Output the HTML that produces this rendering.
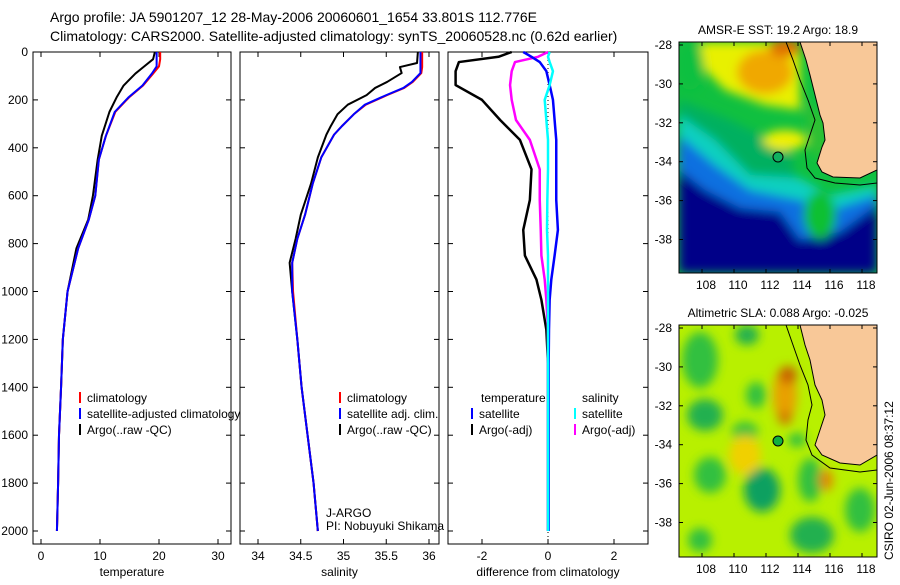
<!DOCTYPE html>
<html><head><meta charset="utf-8">
<style>
body{margin:0;background:#fff;}
svg text{font-family:"Liberation Sans",sans-serif;}
</style></head>
<body>
<svg id="chart" width="900" height="580" viewBox="0 0 900 580" xmlns="http://www.w3.org/2000/svg">
<defs>
<filter id="blur" x="-20%" y="-20%" width="140%" height="140%"><feGaussianBlur stdDeviation="5"/></filter>
<clipPath id="clipTop"><rect x="679" y="42" width="198" height="231"/></clipPath>
<clipPath id="clipBot"><rect x="679" y="325" width="198" height="232"/></clipPath>
</defs>
<rect width="900" height="580" fill="#fff"/>
<text x="50" y="22" font-size="14">Argo profile: JA 5901207_12 28-May-2006 20060601_1654 33.801S 112.776E</text>
<text x="50" y="41" font-size="14">Climatology: CARS2000. Satellite-adjusted climatology: synTS_20060528.nc (0.62d earlier)</text>

<!-- SST map -->
<g>
<text x="778" y="34" font-size="12" text-anchor="middle">AMSR-E SST: 19.2 Argo: 18.9</text>
<g clip-path="url(#clipTop)">
<rect x="679" y="42" width="198" height="231" fill="#10c040"/>
<g filter="url(#blur)">
<polygon fill="#00b060" points="679,100 730,120 790,150 800,200 700,180 679,160"/>
<polygon fill="#10d0c0" points="679,115 715,140 750,175 800,178 830,195 877,185 877,230 679,230"/>
<polygon fill="#0a70e0" points="679,135 715,165 750,190 800,200 830,210 877,195 877,273 679,273"/>
<polygon fill="#000088" points="679,170 705,190 740,208 780,212 800,240 840,232 877,205 877,273 679,273"/>
<ellipse fill="#10c030" cx="820" cy="215" rx="16" ry="24"/>
<ellipse fill="#10c040" cx="690" cy="65" rx="14" ry="25"/>
<polygon fill="#e8f000" points="700,42 800,42 800,110 765,105 725,90 705,70"/>
<ellipse fill="#f0f000" cx="785" cy="140" rx="22" ry="10"/>
<ellipse fill="#f0a800" cx="765" cy="72" rx="28" ry="22"/>
<ellipse fill="#e07000" cx="785" cy="48" rx="16" ry="9"/>
<polygon fill="#30c030" points="805,100 825,120 826,150 818,160 812,150"/>
</g>
<polygon fill="#f8c898" stroke="#000" stroke-width="1" points="800,42 806,60 810,75 815,95 820,115 823,123 825,140 822,147 817,163 822,172 833,177 860,178 877,170 877,42"/>
<polyline fill="none" stroke="#000" stroke-width="1" points="786,42 793,60 800,80 808,100 815,120 810,135 805,150 807,168 815,178 835,183 860,185 877,183"/>
<circle cx="778" cy="157" r="5" fill="#10b060" stroke="#000"/>
</g>
<rect x="679" y="42" width="198" height="231" fill="none" stroke="#000"/>
<g id="sstTicks"></g>
</g>

<!-- SLA map -->
<g>
<text x="778" y="317" font-size="12" text-anchor="middle">Altimetric SLA: 0.088 Argo: -0.025</text>
<g clip-path="url(#clipBot)">
<rect x="679" y="325" width="198" height="232" fill="#b8f000"/>
<g filter="url(#blur)">
<ellipse fill="#30c040" cx="700" cy="360" rx="18" ry="28"/>
<ellipse fill="#20b050" cx="747" cy="335" rx="12" ry="10"/>
<ellipse fill="#30c040" cx="756" cy="395" rx="10" ry="13"/>
<ellipse fill="#20b050" cx="705" cy="415" rx="18" ry="16"/>
<ellipse fill="#30c040" cx="745" cy="432" rx="13" ry="10"/>
<ellipse fill="#30c040" cx="710" cy="475" rx="16" ry="18"/>
<ellipse fill="#10a060" cx="762" cy="490" rx="18" ry="22"/>
<ellipse fill="#30c040" cx="810" cy="480" rx="12" ry="22"/>
<ellipse fill="#20b050" cx="812" cy="535" rx="22" ry="18"/>
<ellipse fill="#30c040" cx="860" cy="510" rx="15" ry="22"/>
<ellipse fill="#30c040" cx="700" cy="540" rx="12" ry="12"/>
<ellipse fill="#f0d000" cx="745" cy="455" rx="16" ry="20"/>
<ellipse fill="#e8a000" cx="785" cy="395" rx="12" ry="28"/>
<ellipse fill="#c86000" cx="788" cy="375" rx="9" ry="9"/>
<ellipse fill="#d07800" cx="785" cy="418" rx="7" ry="7"/>
<ellipse fill="#e08800" cx="826" cy="480" rx="7" ry="11"/>
<ellipse fill="#30c040" cx="797" cy="440" rx="9" ry="7"/>
</g>
<polygon fill="#f8c898" stroke="#000" stroke-width="1" points="800,325 805,345 810,360 815,385 822,400 825,415 820,430 815,445 822,455 840,463 860,465 877,455 877,325"/>
<polyline fill="none" stroke="#000" stroke-width="1" points="786,325 793,345 800,365 808,385 812,405 808,420 806,440 812,455 830,468 860,472 877,470"/>
<circle cx="778" cy="441" r="5" fill="#10b040" stroke="#000"/>
</g>
<rect x="679" y="325" width="198" height="232" fill="none" stroke="#000"/>
<g id="slaTicks"></g>
<text transform="translate(893,560) rotate(-90)" font-size="12">CSIRO 02-Jun-2006 08:37:12</text>
</g>

<g id="panels"></g>
</svg>
<script>
// ---- data ----
const tDepths = [0,30,60,90,140,190,250,350,450,600,700,820,1000,1200,1400,1600,1800,2000];
const tempArgo = [19.3,19.0,17.5,16.0,14.0,12.8,11.6,10.3,9.6,8.8,8.0,6.0,4.5,3.7,3.4,3.05,2.9,2.7];
const tempClim = [20.2,20.2,20.0,19.0,17.3,14.9,12.6,11.0,9.8,9.2,8.1,6.3,4.5,3.7,3.4,3.05,2.9,2.7];
const tempSat  = [19.6,19.6,19.6,18.8,17.2,14.8,12.5,11.0,9.8,9.2,8.1,6.3,4.5,3.7,3.4,3.05,2.9,2.7];
const sDepths = [0,46,63,88,125,150,180,220,260,310,345,440,550,680,780,880,1000,1200,1400,1600,1800,2000];
const salArgo = [35.87,35.86,35.66,35.68,35.51,35.37,35.27,35.05,34.93,34.85,34.8,34.7,34.62,34.5,34.44,34.37,34.4,34.46,34.51,34.58,34.65,34.7];
const salClim = [35.92,35.92,35.92,35.91,35.81,35.71,35.51,35.26,35.12,34.98,34.89,34.74,34.64,34.55,34.46,34.4,34.41,34.46,34.51,34.58,34.65,34.7];
const salSat  = [35.9,35.9,35.9,35.9,35.8,35.7,35.5,35.25,35.12,34.98,34.89,34.74,34.64,34.55,34.46,34.4,34.4,34.46,34.51,34.58,34.65,34.7];
const dDepths = [0,20,42,80,138,200,284,367,490,618,743,850,950,1035,1160,1300,1600,2000];
const dTempArgo = [-1.1,-1.5,-2.7,-2.8,-2.8,-2.0,-1.45,-0.85,-0.5,-0.55,-0.75,-0.7,-0.35,-0.2,-0.05,0,0,0];
const dSalArgo  = [0,-0.3,-1.0,-1.1,-1.15,-1.1,-0.97,-0.55,-0.25,-0.25,-0.22,-0.2,-0.1,-0.05,0,0,0,0];
const dTempSat  = [-0.75,-0.5,-0.25,-0.05,0.05,0.15,0.2,0.25,0.25,0.25,0.3,0.2,0.1,0.05,0.03,0.02,0.02,0.02];
const dSalSat   = [0.05,0.0,0.05,0.15,0.05,-0.1,-0.05,0.0,0.0,-0.02,-0.03,0.0,0.0,0.0,0.0,0.0,0.0,0.0];
const depthTicks = [0,200,400,600,800,1000,1200,1400,1600,1800,2000];
const tempTicks = [0,10,20,30];
const salTicks = [34,34.5,35,35.5,36];
const diffTicks = [-2,0,2];
const lonTicks = [108,110,112,114,116,118];
const latTicks = [-28,-30,-32,-34,-36,-38];

const NS = "http://www.w3.org/2000/svg";
const panels = document.getElementById('panels');
const y = d => 52 + d * (479/2000);
function mk(tag, attrs, parent){const e=document.createElementNS(NS,tag);for(const k in attrs)e.setAttribute(k,attrs[k]);parent.appendChild(e);return e;}

function panel(name, x0, x1, xs, ticks, label, fmt){
  const g = mk('g',{},panels);
  
  
  const fr = mk('rect',{x:x0,y:52,width:x1-x0,height:492,fill:'none',stroke:'#000'},g);
  
  
  ticks.forEach(t=>{
    const px = xs(t);
    mk('line',{x1:px,x2:px,y1:52,y2:57,stroke:'#000'},g);
    mk('line',{x1:px,x2:px,y1:544,y2:539,stroke:'#000'},g);
    const tx = mk('text',{x:px,y:560,'font-size':12,'text-anchor':'middle'},g);
    tx.textContent = fmt(t);
    
    
  });
  depthTicks.forEach(d=>{
    mk('line',{x1:x0,x2:x0+5,y1:y(d),y2:y(d),stroke:'#000'},g);
    mk('line',{x1:x1,x2:x1-5,y1:y(d),y2:y(d),stroke:'#000'},g);
  });
  const lb = mk('text',{x:(x0+x1)/2,y:576,'font-size':12,'text-anchor':'middle'},g);
  lb.textContent = label;
  
  
  return g;
}
function line(g, xs, vals, dep, color, name, w){
  const p = mk('polyline',{fill:'none',stroke:color,'stroke-width':w||2,'stroke-linejoin':'round',points:vals.map((v,i)=>xs(v)+','+y(dep[i])).join(' ')},g);
  
  
}
function legend(g, x, yy, color, text){
  mk('line',{x1:x,x2:x,y1:yy-10,y2:yy+1,stroke:color,'stroke-width':2},g);
  const t = mk('text',{x:x+7,y:yy,'font-size':12},g);
  t.textContent = text;
  
  
}

depthTicks.forEach(d=>{
  const t = mk('text',{x:28,y:y(d)+4,'font-size':12,'text-anchor':'end'},panels);
  t.textContent = d;
  
  
});

const xT = v => 41 + v*5.9;
const g1 = panel('temperature-panel', 33, 231, xT, tempTicks, 'temperature', t=>t);
line(g1,xT,tempArgo,tDepths,'#000','temp-argo-line');
line(g1,xT,tempClim,tDepths,'#f00','temp-clim-line');
line(g1,xT,tempSat,tDepths,'#00f','temp-sat-line');
legend(g1,80,402,'#f00','climatology');
legend(g1,80,418,'#00f','satellite-adjusted climatology');
legend(g1,80,434,'#000','Argo(..raw -QC)');

const xS = v => 258 + (v-34)*85.5;
const g2 = panel('salinity-panel', 240, 439, xS, salTicks, 'salinity', t=>t);
line(g2,xS,salArgo,sDepths,'#000','sal-argo-line');
line(g2,xS,salClim,sDepths,'#f00','sal-clim-line');
line(g2,xS,salSat,sDepths,'#00f','sal-sat-line');
legend(g2,340,402,'#f00','climatology');
legend(g2,340,418,'#00f','satellite adj. clim.');
legend(g2,340,434,'#000','Argo(..raw -QC)');
[['J-ARGO',517],['PI: Nobuyuki Shikama',530]].forEach(a=>{
  const t = mk('text',{x:326,y:a[1],'font-size':12},g2);
  t.textContent = a[0];
  
  
});

const xD = v => 548 + v*33;
const g3 = panel('difference-panel', 448, 648, xD, diffTicks, 'difference from climatology', t=>t);
mk('line',{x1:548,x2:548,y1:52,y2:544,stroke:'#000','stroke-dasharray':'1,3'},g3);
line(g3,xD,dTempArgo,dDepths,'#000','diff-temp-argo-line',2.5);
line(g3,xD,dSalArgo,dDepths,'#f0f','diff-sal-argo-line',2.5);
line(g3,xD,dTempSat,dDepths,'#00f','diff-temp-sat-line',2.5);
line(g3,xD,dSalSat,dDepths,'#0ff','diff-sal-sat-line',2.5);
[['temperature',481,402],['salinity',582,402]].forEach(a=>{
  const t = mk('text',{x:a[1],y:a[2],'font-size':12},g3);
  t.textContent = a[0];
  
  
});
legend(g3,472,418,'#00f','satellite');
legend(g3,472,434,'#000','Argo(-adj)');
legend(g3,575,418,'#0ff','satellite');
legend(g3,575,434,'#f0f','Argo(-adj)');

function mapTicks(id, top, bot, lat0){
  const g = document.getElementById(id);
  const lx = v => 702 + (v-108)*16;
  const ly = v => lat0 + (-28 - v)*19.45;
  lonTicks.forEach(v=>{
    mk('line',{x1:lx(v),x2:lx(v),y1:top,y2:top+4,stroke:'#000'},g);
    mk('line',{x1:lx(v),x2:lx(v),y1:bot,y2:bot-4,stroke:'#000'},g);
    const t = mk('text',{x:lx(v)+4,y:bot+16,'font-size':12,'text-anchor':'middle'},g);
    t.textContent = v;
    
    
  });
  latTicks.forEach(v=>{
    mk('line',{x1:679,x2:683,y1:ly(v),y2:ly(v),stroke:'#000'},g);
    mk('line',{x1:877,x2:873,y1:ly(v),y2:ly(v),stroke:'#000'},g);
    const t = mk('text',{x:672,y:ly(v)+4,'font-size':12,'text-anchor':'end'},g);
    t.textContent = v;
    
    
  });
}
mapTicks('sstTicks',42,273,45);
mapTicks('slaTicks',325,557,328);
</script>
</body></html>
